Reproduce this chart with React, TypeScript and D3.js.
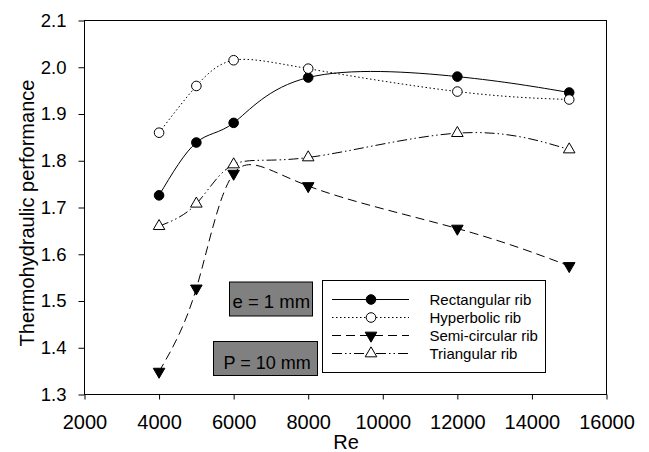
import { useRef, useEffect } from "react";
import * as d3 from "d3";

// Reynolds numbers
const re = [4000, 5000, 6000, 8000, 12000, 15000];
// thermohydraulic performance per rib shape
const rectangular = [1.726, 1.839, 1.881, 1.978, 1.98, 1.946];
const hyperbolic = [1.86, 1.96, 2.015, 1.997, 1.948, 1.931];
const semiCircular = [1.349, 1.527, 1.7725, 1.746, 1.655, 1.575];
const triangular = [1.66, 1.708, 1.792, 1.807, 1.859, 1.824];

const xTicks = [2000, 4000, 6000, 8000, 10000, 12000, 14000, 16000];
const yTicks = [1.3, 1.4, 1.5, 1.6, 1.7, 1.8, 1.9, 2.0, 2.1];

const series = [
  { name: "Rectangular rib", values: rectangular, dash: null, marker: "fcircle" },
  { name: "Hyperbolic rib", values: hyperbolic, dash: "1.5,2.5", marker: "ocircle" },
  { name: "Semi-circular rib", values: semiCircular, dash: "9,5", marker: "ftri" },
  { name: "Triangular rib", values: triangular, dash: "10,3,1.5,3,1.5,3", marker: "otri" },
];

const FONT = "'Liberation Sans', Arial, sans-serif";

export default function App() {
  const ref = useRef<SVGSVGElement>(null);

  useEffect(() => {
    document.body.style.margin = "0";
    const svg = d3.select(ref.current);
    svg.selectAll("*").remove();

    const x = d3.scaleLinear().domain([2000, 16000]).range([84.5, 606.5]);
    const y = d3.scaleLinear().domain([1.3, 2.1]).range([394.5, 20.5]);

    function marker(g, kind, cx, cy) {
      if (kind === "fcircle" || kind === "ocircle") {
        g.append("circle")
          .attr("cx", cx).attr("cy", cy).attr("r", 4.8)
          .attr("fill", kind === "fcircle" ? "#000" : "#fff")
          .attr("stroke", "#000").attr("stroke-width", 1);
      } else {
        const sym = d3.symbol().type(d3.symbolTriangle).size(58)();
        g.append("path")
          .attr("d", sym)
          .attr("transform", `translate(${cx},${cy}) rotate(${kind === "ftri" ? 180 : 0})`)
          .attr("fill", kind === "ftri" ? "#000" : "#fff")
          .attr("stroke", "#000").attr("stroke-width", 1);
      }
    }

    // frame
    svg.append("rect")
      .attr("x", x(2000)).attr("y", y(2.1))
      .attr("width", x(16000) - x(2000)).attr("height", y(1.3) - y(2.1))
      .attr("fill", "none").attr("stroke", "#000").attr("stroke-width", 1);

    // axes
    const gx = svg.append("g")
      .attr("transform", `translate(0,${y(1.3)})`)
      .call(d3.axisBottom(x).tickValues(xTicks).tickSize(5).tickSizeOuter(0).tickPadding(15.5).tickFormat(d3.format("d")));
    gx.select(".domain").remove();
    gx.selectAll("text").attr("font-size", 20).attr("font-family", FONT).attr("fill", "#000");
    gx.selectAll("line").attr("stroke", "#000");

    const gy = svg.append("g")
      .attr("transform", `translate(${x(2000)},0)`)
      .call(d3.axisLeft(y).tickValues(yTicks).tickSize(6).tickSizeOuter(0).tickPadding(12).tickFormat(d3.format(".1f")));
    gy.select(".domain").remove();
    gy.selectAll("text").attr("font-size", 18.5).attr("font-family", FONT).attr("fill", "#000");
    gy.selectAll("line").attr("stroke", "#000");

    svg.append("text")
      .attr("x", 346).attr("y", 449)
      .attr("text-anchor", "middle")
      .attr("font-size", 20).attr("font-family", FONT)
      .text("Re");

    svg.append("text")
      .attr("transform", "translate(34,213) rotate(-90)")
      .attr("text-anchor", "middle")
      .attr("font-size", 20).attr("font-family", FONT)
      .text("Thermohydraulic performance");

    // lines
    const line = d3.line<number>()
      .x((d, i) => x(re[i]))
      .y((d) => y(d))
      .curve(d3.curveNatural);

    series.forEach((s) => {
      svg.append("path")
        .attr("d", line(s.values))
        .attr("fill", "none")
        .attr("stroke", "#000")
        .attr("stroke-width", 1)
        .attr("stroke-dasharray", s.dash);
    });
    series.forEach((s) => {
      const g = svg.append("g");
      s.values.forEach((v, i) => marker(g, s.marker, x(re[i]), y(v)));
    });

    // annotation boxes
    const notes = [
      { label: "e = 1 mm", bx: 229, by: 281.5, bw: 83, bh: 34, tx: 232.5, ty: 307.5, fs: 18.5 },
      { label: "P = 10 mm", bx: 213, by: 341, bw: 104, bh: 34, tx: 223.5, ty: 368.5, fs: 18 },
    ];
    notes.forEach((n) => {
      svg.append("rect")
        .attr("x", n.bx + 0.5).attr("y", n.by + 0.5)
        .attr("width", n.bw).attr("height", n.bh)
        .attr("fill", "#808080").attr("stroke", "#000").attr("stroke-width", 1);
      svg.append("text")
        .attr("x", n.tx).attr("y", n.ty)
        .attr("font-size", n.fs).attr("font-family", FONT)
        .text(n.label);
    });

    // legend
    const lg = svg.append("g");
    lg.append("rect")
      .attr("x", 322.5).attr("y", 280.5).attr("width", 223).attr("height", 92)
      .attr("fill", "#fff").attr("stroke", "#000").attr("stroke-width", 1);
    series.forEach((s, i) => {
      const cy = 299.5 + i * 18;
      lg.append("line")
        .attr("x1", 332).attr("x2", 409).attr("y1", cy).attr("y2", cy)
        .attr("stroke", "#000").attr("stroke-width", 1)
        .attr("stroke-dasharray", s.dash);
      marker(lg, s.marker, 371, cy);
      lg.append("text")
        .attr("x", 429.5).attr("y", cy + 5.4)
        .attr("font-size", 15).attr("font-family", FONT)
        .text(s.name);
    });
  }, []);

  return <svg ref={ref} width={649} height={452} style={{ display: "block", background: "#fff" }} />;
}
